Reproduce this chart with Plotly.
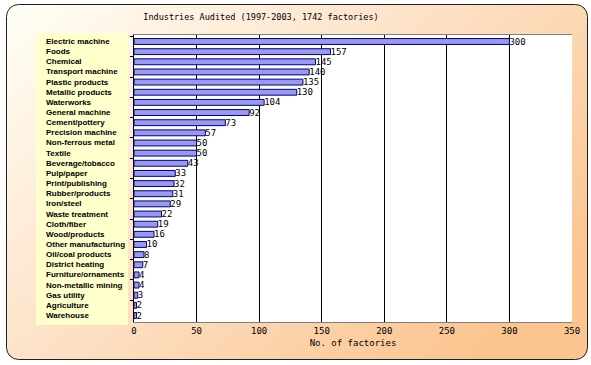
import base64
import plotly.graph_objects as go

industries = [
    "Electric machine", "Foods", "Chemical", "Transport machine", "Plastic products",
    "Metallic products", "Waterworks", "General machine", "Cement/pottery",
    "Precision machine", "Non-ferrous metal", "Textile", "Beverage/tobacco",
    "Pulp/paper", "Print/publishing", "Rubber/products", "Iron/steel",
    "Waste treatment", "Cloth/fiber", "Wood/products", "Other manufacturing",
    "Oil/coal products", "District heating", "Furniture/ornaments",
    "Non-metallic mining", "Gas utility", "Agriculture", "Warehouse",
]
factories = [300, 157, 145, 140, 135, 130, 104, 92, 73, 57, 50, 50, 43, 33, 32,
             31, 29, 22, 19, 16, 10, 8, 7, 4, 4, 3, 2, 2]
x_ticks = [0, 50, 100, 150, 200, 250, 300, 350]

W, H = 591, 365
ML, MR, MT, MB = 134, 19, 35, 43
PW, PH = W - ML - MR, H - MT - MB

svg = f'''<svg xmlns="http://www.w3.org/2000/svg" width="{W}" height="{H}" viewBox="0 0 {W} {H}">
<defs><linearGradient id="g" x1="0" y1="0" x2="1" y2="0.7">
<stop offset="0" stop-color="#fffff6"/><stop offset="0.45" stop-color="#fde4cc"/>
<stop offset="1" stop-color="#fbc590"/></linearGradient></defs>
<rect x="0" y="0" width="{W}" height="{H}" fill="#ffffff"/>
<rect x="6.5" y="4.5" width="581" height="355" rx="12" ry="12" fill="url(#g)" stroke="#202020" stroke-width="1"/>
</svg>'''
src = "data:image/svg+xml;base64," + base64.b64encode(svg.encode()).decode()

mono = "DejaVu Sans Mono"

fig = go.Figure(go.Bar(
    x=factories, y=industries, orientation="h",
    marker=dict(color="#9999ee", line=dict(color="#000080", width=1)),
    text=[str(v) for v in factories], textposition="outside", constraintext="none",
    textfont=dict(family=mono, size=9, color="black"),
    cliponaxis=False,
))

ann = [dict(x=(44 - ML) / PW, xref="paper", y=c, yref="y", text="<b>" + c + "</b>",
            showarrow=False, xanchor="left", yanchor="middle",
            font=dict(family="Liberation Sans", size=8, color="#000000"))
       for c in industries]

fig.update_layout(
    width=W, height=H,
    margin=dict(l=ML, r=MR, t=MT, b=MB),
    paper_bgcolor="white", plot_bgcolor="white",
    showlegend=False, bargap=0.42,
    title=dict(text="Industries Audited (1997-2003, 1742 factories)",
               x=261 / W, xanchor="center", y=1 - 17 / H, yanchor="middle",
               yref="container", xref="container",
               font=dict(family=mono, size=8.5, color="black")),
    xaxis=dict(range=[0, 350], tickvals=x_ticks, showgrid=True, gridcolor="black",
               gridwidth=1, showline=True, linecolor="#808080", mirror=True,
               zeroline=False, ticks="", tickfont=dict(family=mono, size=9, color="black"),
               title=dict(text="No. of factories", standoff=4,
                          font=dict(family=mono, size=9, color="black"))),
    yaxis=dict(autorange="reversed", showticklabels=False, ticks="outside",
               ticklen=3, tickcolor="black", tickson="boundaries",
               showline=True, linecolor="black", showgrid=False),
    images=[dict(source=src, xref="paper", yref="paper",
                 x=-ML / PW, y=1 + MT / PH, sizex=W / PW, sizey=H / PH,
                 xanchor="left", yanchor="top", sizing="stretch", layer="below")],
    shapes=[
        dict(type="rect", xref="paper", yref="paper", x0=0, x1=1, y0=0, y1=1,
             fillcolor="white", line=dict(width=0), layer="below"),
        dict(type="rect", xref="paper", yref="paper",
             x0=(36 - ML) / PW, x1=(128 - ML) / PW, y0=-3 / PH, y1=1 + 2 / PH,
             fillcolor="#ffffcc", line=dict(width=0), layer="below"),
    ],
    annotations=ann,
)

fig.write_html("out.html", config={"displayModeBar": False},
               post_script="document.body.style.margin='0';document.body.style.overflow='hidden';")
